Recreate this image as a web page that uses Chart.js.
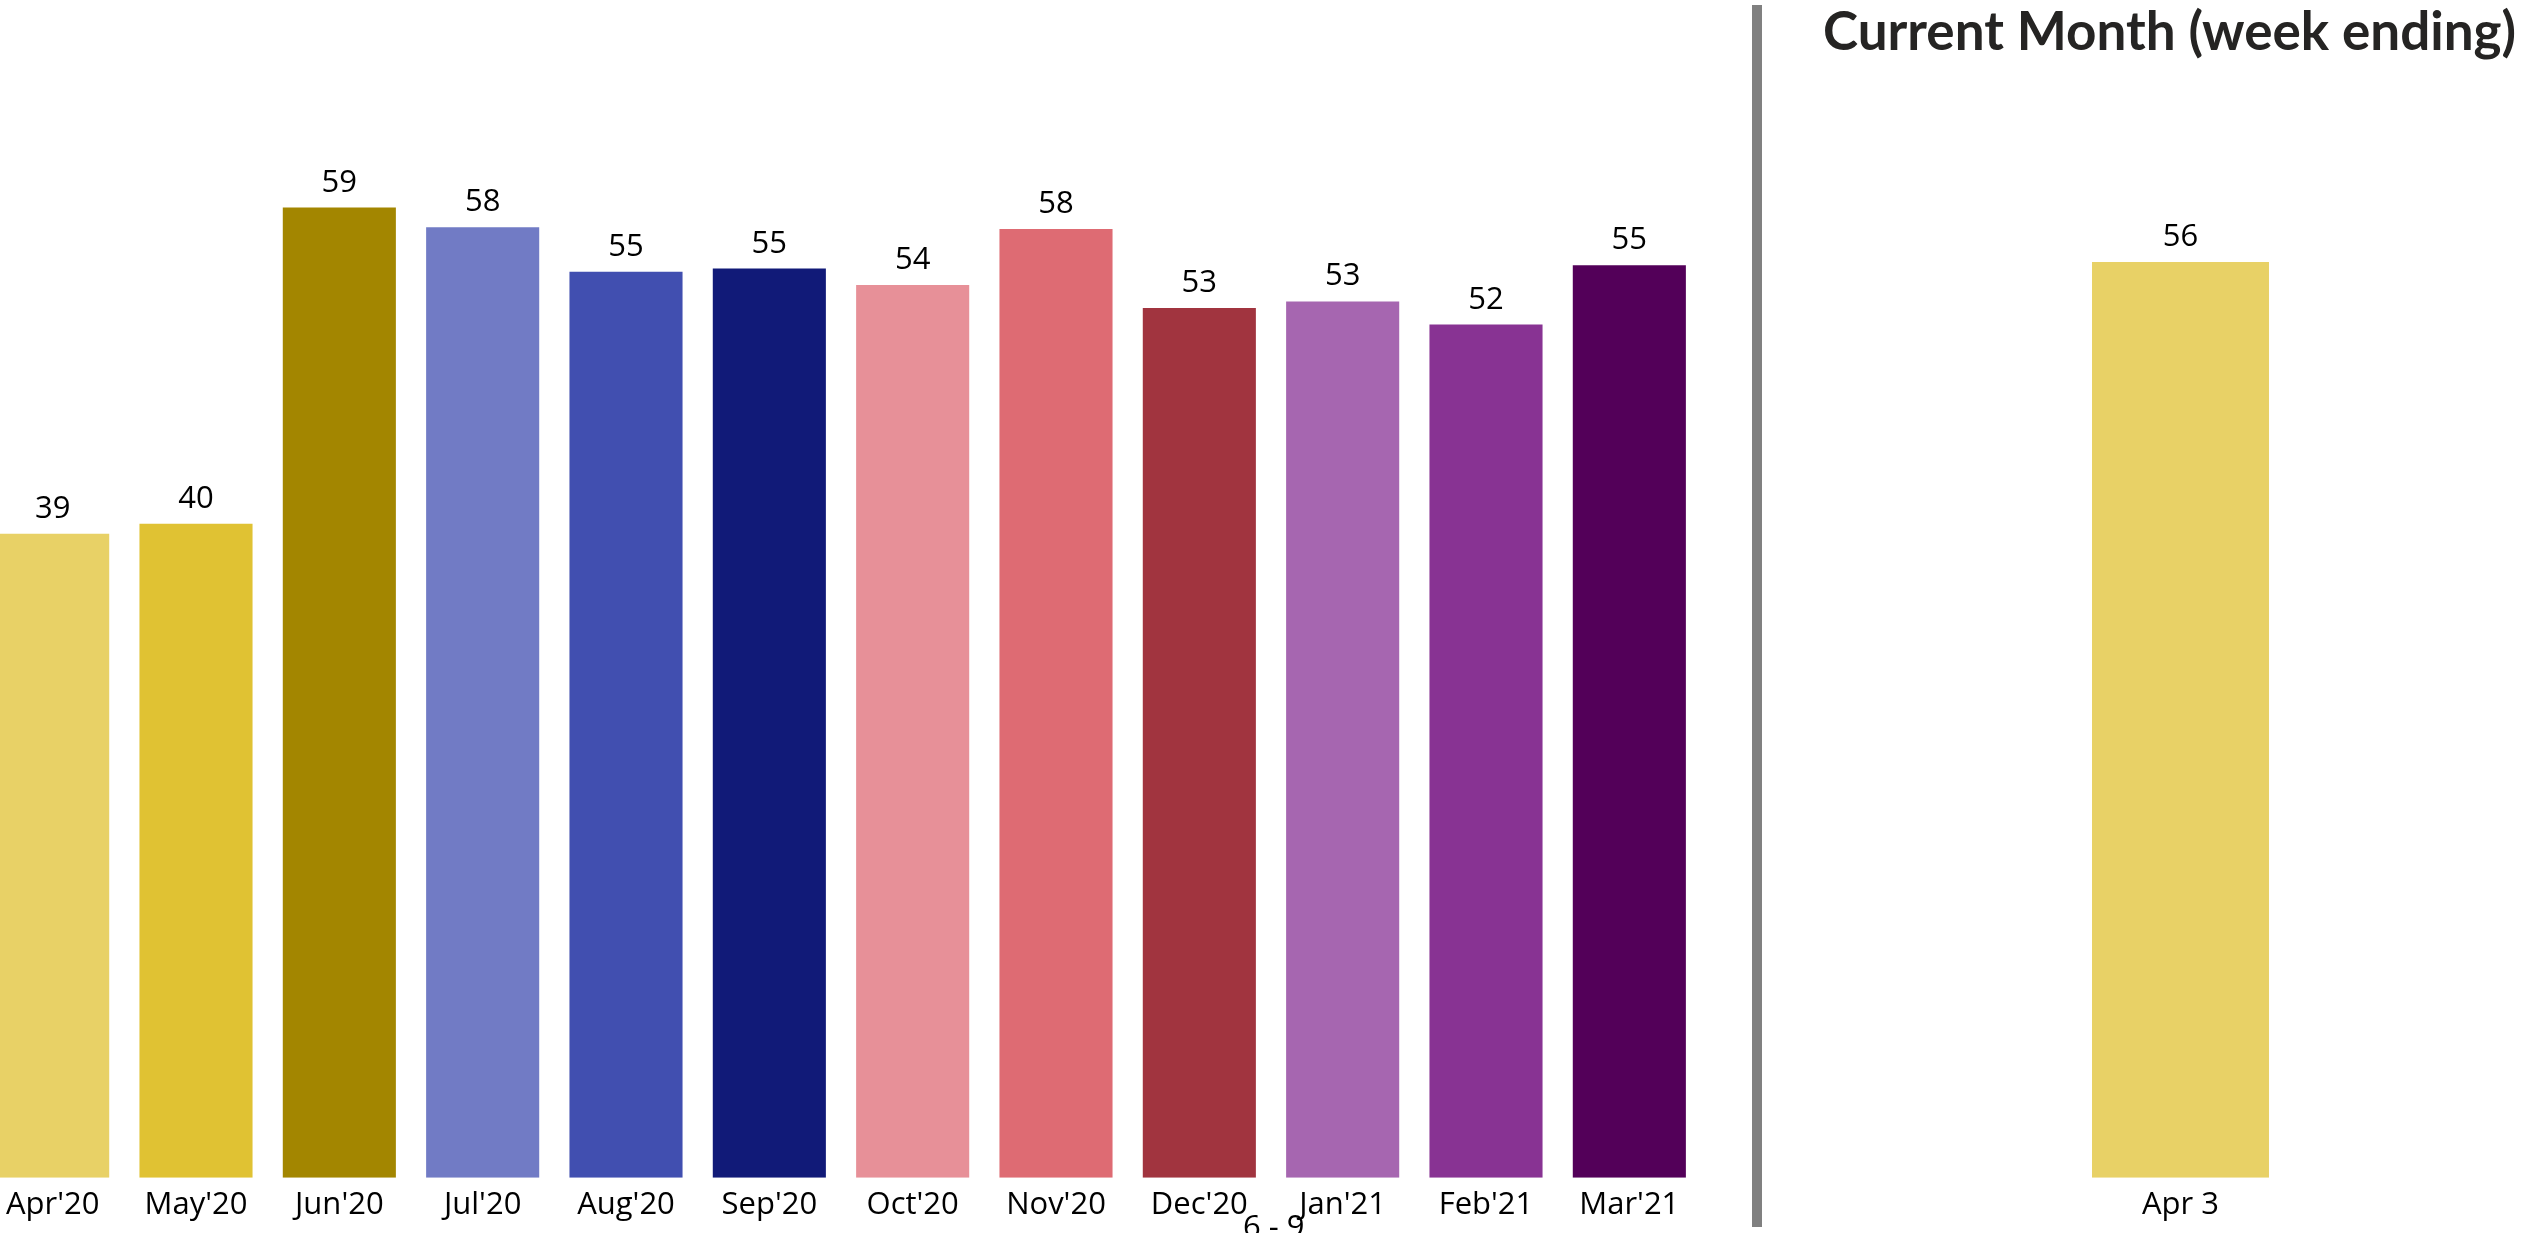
<!DOCTYPE html>
<html>
<head>
<meta charset="utf-8">
<script src="https://cdn.jsdelivr.net/npm/chart.js@4/dist/chart.umd.min.js"></script>
<style>
  html, body { margin:0; padding:0; background:#fff; }
  body { width:2524px; height:1233px; position:relative; overflow:hidden; font-family:'Open Sans', sans-serif; }
  .box { position:absolute; top:0; height:1233px; }
  #leftBox  { left:-19px; width:1720px; }
  #rightBox { left:1837px; width:687px; }
  .divider { position:absolute; left:1752px; top:5px; width:10px; height:1222px; background:#808080; }
  .title { position:absolute; left:1823px; top:3px; font-family:Lato, sans-serif; font-size:53px; line-height:1; font-weight:700; color:#252423; white-space:nowrap; }
  .range { position:absolute; left:1243px; top:1210px; font-size:31px; line-height:1; color:#000; white-space:nowrap; }
</style>
</head>
<body>
<div class="box" id="leftBox"><canvas id="monthChart"></canvas></div>
<div class="divider"></div>
<div class="title">Current Month (week ending)</div>
<div class="box" id="rightBox"><canvas id="weekChart"></canvas></div>
<div class="range">6 - 9</div>

<script>
// monthly series
const months      = ["Apr'20","May'20","Jun'20","Jul'20","Aug'20","Sep'20","Oct'20","Nov'20","Dec'20","Jan'21","Feb'21","Mar'21"];
const monthValues = [39.1, 39.7, 58.9, 57.7, 55.0, 55.2, 54.2, 57.6, 52.8, 53.2, 51.8, 55.4];
const monthColors = ['#E8D166','#E0C233','#A38600','#717BC5','#414FB0','#111A78','#E79098','#DE6B73','#A1343F','#A666B0','#883393','#530059'];

// current month, week ending
const weeks       = ['Apr 3'];
const weekValues  = [55.6];
const weekColors  = ['#E8D166'];

const Y_MAX = 71.5;
const FONT = "'Open Sans', sans-serif";

// draws the rounded value above each bar
const valueLabels = {
  id: 'valueLabels',
  afterDatasetsDraw(chart) {
    const ctx = chart.ctx;
    ctx.save();
    ctx.font = `31px ${FONT}`;
    ctx.fillStyle = '#000';
    ctx.textAlign = 'center';
    ctx.textBaseline = 'alphabetic';
    chart.data.datasets.forEach((ds, i) => {
      chart.getDatasetMeta(i).data.forEach((bar, j) => {
        ctx.fillText(Math.round(ds.data[j]), bar.x, bar.y - 16);
      });
    });
    ctx.restore();
  }
};

function barOptions() {
  return {
    responsive:true, maintainAspectRatio:false, animation:false,
    layout:{ padding:{ top:0, left:0, right:0, bottom:0 } },
    plugins:{ legend:{ display:false }, tooltip:{ enabled:false } },
    scales:{
      x:{
        grid:{ display:false, drawTicks:false }, border:{ display:false },
        ticks:{ color:'#000', padding:9, maxRotation:0, autoSkip:false, font:{ family:FONT, size:31 } }
      },
      y:{ display:false, min:0, max:Y_MAX }
    }
  };
}

new Chart(document.getElementById('monthChart'), {
  type:'bar',
  data:{ labels:months, datasets:[{ data:monthValues, backgroundColor:monthColors, barPercentage:0.789, categoryPercentage:1 }] },
  options:barOptions(),
  plugins:[valueLabels]
});

new Chart(document.getElementById('weekChart'), {
  type:'bar',
  data:{ labels:weeks, datasets:[{ data:weekValues, backgroundColor:weekColors, barPercentage:0.2576, categoryPercentage:1 }] },
  options:barOptions(),
  plugins:[valueLabels]
});
</script>
</body>
</html>
